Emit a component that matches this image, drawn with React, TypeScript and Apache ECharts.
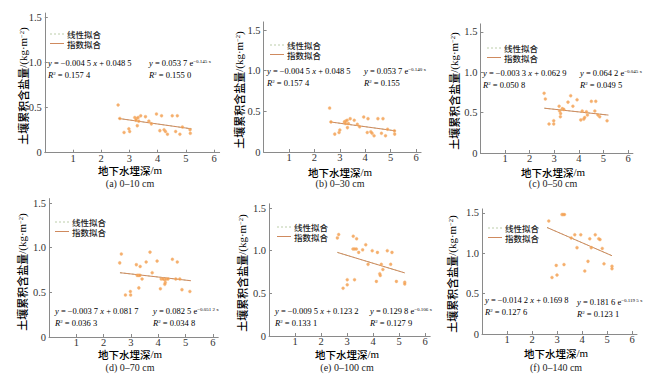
import React, { useEffect, useRef } from "react";
import * as echarts from "echarts";

// ---------- data ----------
const xTicks = [1, 2, 3, 4, 5, 6];
const yTicks = [0, 0.5, 1, 1.5];

const captions = ["(a) 0–10 cm", "(b) 0–30 cm", "(c) 0–50 cm", "(d) 0–70 cm", "(e) 0–100 cm", "(f) 0–140 cm"];
const legendNames = ["线性拟合", "指数拟合"];

const pointsA = [
  [2.6, 0.53], [2.66, 0.38], [2.81, 0.225], [2.98, 0.265], [3.01, 0.235], [3.19, 0.39], [3.25, 0.38],
  [3.31, 0.39], [3.23, 0.36], [3.28, 0.3], [3.33, 0.35], [3.4, 0.41], [3.57, 0.4], [3.69, 0.35],
  [3.78, 0.32], [3.96, 0.43], [4.14, 0.41], [4.08, 0.245], [4.23, 0.255], [4.28, 0.235], [4.35, 0.205],
  [4.52, 0.41], [4.7, 0.41], [4.64, 0.235], [4.79, 0.205], [4.88, 0.285], [5.15, 0.255], [5.16, 0.215],
];
const pointsB = [
  [2.6, 0.54], [2.65, 0.37], [2.8, 0.22], [2.97, 0.24], [3.0, 0.27], [3.18, 0.37], [3.23, 0.38],
  [3.29, 0.39], [3.22, 0.35], [3.3, 0.3], [3.34, 0.35], [3.41, 0.41], [3.57, 0.39], [3.69, 0.34],
  [3.78, 0.31], [3.94, 0.43], [4.11, 0.41], [4.08, 0.24], [4.22, 0.25], [4.27, 0.23], [4.35, 0.2],
  [4.5, 0.41], [4.7, 0.41], [4.64, 0.23], [4.8, 0.2], [4.88, 0.28], [5.15, 0.26], [5.16, 0.22],
];
const pointsC = [
  [2.59, 0.74], [2.64, 0.67], [2.79, 0.36], [2.98, 0.4], [2.98, 0.36], [3.2, 0.58], [3.22, 0.52],
  [3.26, 0.49], [3.25, 0.45], [3.33, 0.55], [3.39, 0.54], [3.56, 0.63], [3.67, 0.71], [3.76, 0.58],
  [3.93, 0.66], [4.14, 0.52], [4.08, 0.41], [4.2, 0.42], [4.24, 0.44], [4.31, 0.51], [4.35, 0.47],
  [4.51, 0.64], [4.69, 0.64], [4.65, 0.52], [4.78, 0.47], [4.85, 0.45], [5.15, 0.4],
];
const pointsD = [
  [2.65, 0.93], [2.59, 0.83], [2.8, 0.47], [2.98, 0.51], [2.99, 0.47], [3.2, 0.81], [3.34, 0.79],
  [3.23, 0.69], [3.28, 0.69], [3.33, 0.69], [3.41, 0.65], [3.29, 0.55], [3.56, 0.84], [3.7, 0.95],
  [3.78, 0.72], [3.96, 0.85], [4.11, 0.65], [4.08, 0.54], [4.24, 0.64], [4.3, 0.65], [4.26, 0.61],
  [4.24, 0.59], [4.36, 0.65], [4.18, 0.65], [4.52, 0.87], [4.7, 0.84], [4.64, 0.65], [4.79, 0.65],
  [4.87, 0.53], [5.16, 0.51],
];
const pointsE = [
  [2.68, 1.19], [2.63, 1.15], [2.85, 0.56], [3.01, 0.66], [3.01, 0.6], [3.24, 1.17], [3.37, 1.14],
  [3.23, 1.02], [3.29, 1.02], [3.36, 1.02], [3.45, 0.98], [3.29, 0.66], [3.6, 1.01], [3.72, 1.07],
  [3.81, 0.84], [3.97, 1.0], [4.17, 0.98], [4.13, 0.64], [4.26, 0.73], [4.28, 0.71], [4.32, 0.84],
  [4.38, 0.78], [4.55, 1.0], [4.73, 0.98], [4.68, 0.84], [4.9, 0.64], [5.22, 0.63], [5.22, 0.61],
];
const pointsF = [
  [2.67, 1.4], [3.2, 1.48], [3.25, 1.48], [3.3, 1.48], [2.97, 0.85], [3.28, 0.86], [2.8, 0.7],
  [3.0, 0.73], [3.57, 1.19], [3.71, 1.23], [3.95, 1.23], [3.8, 1.07], [4.31, 1.18], [4.37, 1.07],
  [4.24, 0.9], [4.11, 0.78], [4.53, 1.23], [4.67, 1.18], [4.72, 1.17], [4.81, 1.06], [4.88, 0.87],
  [5.2, 0.84], [5.2, 0.81],
];
const allPoints = [pointsA, pointsB, pointsC, pointsD, pointsE, pointsF];

// fitted lines (endpoints)
const linFits = [
  [[2.62, 0.38], [5.2, 0.265]],
  [[2.62, 0.37], [5.2, 0.26]],
  [[2.6, 0.555], [5.2, 0.47]],
  [[2.6, 0.72], [5.2, 0.63]],
  [[2.63, 0.98], [5.22, 0.74]],
  [[2.6, 1.32], [5.2, 0.97]],
];
const expFits = linFits;

const linSlope = ["−0.004 5", "−0.004 5", "−0.003 3", "−0.003 7", "−0.009 5", "−0.014 2"];
const linIntercept = ["0.048 5", "0.048 5", "0.062 9", "0.081 7", "0.123 2", "0.169 8"];
const linR2 = ["0.157 4", "0.157 4", "0.050 8", "0.036 3", "0.133 1", "0.127 6"];
const expCoef = ["0.053 7", "0.053 7", "0.064 2", "0.082 5", "0.129 8", "0.181 6"];
const expRate = ["−0.145 x", "−0.140 x", "−0.045 x", "−0.051 2 x", "−0.106 x", "−0.119 5 x"];
const expR2 = ["0.155 0", "0.155", "0.049 5", "0.034 8", "0.127 9", "0.123 1"];
const yMax = [1.55, 1.6, 1.6, 1.55, 1.55, 1.55];

// ---------- layout ----------
const layout = [
  { left: 44.8, y0: 152.7, ux: 28.2, uy: 90.1, eqL: [48, 63], eqR: [149, 63], leg: [50, 34], yName: [23, 86], xName: [130, 170], cap: 183 },
  { left: 263.6, y0: 152, ux: 25.4, uy: 81.3, eqL: [267, 71], eqR: [364, 71], leg: [270, 45], yName: [239, 90], xName: [340, 172], cap: 183 },
  { left: 480.4, y0: 153, ux: 24.6, uy: 80.7, eqL: [483, 73], eqR: [580, 73], leg: [487, 48], yName: [454, 91], xName: [553, 172], cap: 183 },
  { left: 49, y0: 337, ux: 27.3, uy: 89.3, eqL: [55, 311], eqR: [153, 311], leg: [55, 222], yName: [22, 272], xName: [130, 354], cap: 367 },
  { left: 269, y0: 336, ux: 26, uy: 85.3, eqL: [275, 311], eqR: [370, 311], leg: [277, 227], yName: [242, 273], xName: [347, 354], cap: 367 },
  { left: 482, y0: 334, ux: 25, uy: 80.7, eqL: [485, 300], eqR: [577, 302], leg: [488, 228], yName: [452, 274], xName: [556, 353], cap: 367 },
];

const SERIF = '"Liberation Serif", "Times New Roman", serif';
const CJK = '"Noto Sans CJK SC", sans-serif';
const AXIS_COLOR = "#8a8a8a";
const PT_COLOR = "#f29a48";
const EXP_COLOR = "#cf8a5e";
const LIN_COLOR = "#bccdaa";
const XMAX = 6.2;
const LEG_GAP = 9.5;

const eqRich = {
  i: { fontFamily: SERIF, fontStyle: "italic", fontSize: 8.5, color: "#222" },
  n: { fontFamily: SERIF, fontSize: 8.5, color: "#222" },
  s: { fontFamily: SERIF, fontSize: 5, color: "#222", verticalAlign: "top", padding: [0, 0, 4, 0] },
};

function buildOption() {
  const grid: any[] = [];
  const xAxis: any[] = [];
  const yAxis: any[] = [];
  const series: any[] = [];
  const graphic: any[] = [];

  layout.forEach((g, i) => {
    const h = yMax[i] * g.uy;
    grid.push({ left: g.left, top: g.y0 - h, width: XMAX * g.ux, height: h });
    xAxis.push({
      type: "value", gridIndex: i, min: 0, max: XMAX,
      axisLine: { show: true, lineStyle: { color: AXIS_COLOR, width: 1 } },
      axisTick: { show: true, inside: true, length: 3, customValues: xTicks, lineStyle: { color: AXIS_COLOR } },
      axisLabel: { customValues: xTicks, margin: 0, fontFamily: SERIF, fontSize: 10.5, color: "#333" },
      splitLine: { show: false },
    });
    yAxis.push({
      type: "value", gridIndex: i, min: 0, max: yMax[i],
      axisLine: { show: true, lineStyle: { color: AXIS_COLOR, width: 1 } },
      axisTick: { show: true, inside: true, length: 3, customValues: yTicks, lineStyle: { color: AXIS_COLOR } },
      axisLabel: {
        customValues: yTicks, margin: 3, fontFamily: SERIF, fontSize: 10.5, color: "#333",
        formatter: (v: number) => (v === 0 ? "0" : v.toFixed(1)),
      },
      splitLine: { show: false },
    });
    series.push({
      type: "line", xAxisIndex: i, yAxisIndex: i, data: linFits[i], symbol: "none",
      lineStyle: { color: LIN_COLOR, width: 1, type: [2, 2] }, silent: true, z: 2,
    });
    series.push({
      type: "line", xAxisIndex: i, yAxisIndex: i, data: expFits[i], symbol: "none",
      lineStyle: { color: EXP_COLOR, width: 1 }, silent: true, z: 3,
    });
    series.push({
      type: "scatter", xAxisIndex: i, yAxisIndex: i, data: allPoints[i], symbol: "circle", symbolSize: 3,
      itemStyle: { color: PT_COLOR, borderColor: "rgba(248,190,130,0.5)", borderWidth: 1 }, z: 4,
    });

    // legend
    const [lx, ly] = g.leg;
    graphic.push({ type: "line", shape: { x1: lx, y1: ly, x2: lx + 14, y2: ly }, style: { stroke: LIN_COLOR, lineWidth: 1, lineDash: [2, 2] } });
    graphic.push({ type: "line", shape: { x1: lx, y1: ly + LEG_GAP, x2: lx + 14, y2: ly + LEG_GAP }, style: { stroke: EXP_COLOR, lineWidth: 1 } });
    graphic.push({
      type: "text", x: lx + 17, y: ly - LEG_GAP / 2,
      style: {
        text: legendNames.join("\n"), fontFamily: CJK, fontSize: 8.5, fontWeight: 500,
        lineHeight: LEG_GAP, fill: "#222", textVerticalAlign: "top",
      },
    });

    // equations
    const [ex, ey] = g.eqL;
    graphic.push({ type: "text", x: ex, y: ey, style: { text: `{i|y}{n| = ${linSlope[i]} }{i|x}{n| + ${linIntercept[i]}}`, rich: eqRich, textVerticalAlign: "middle" } });
    graphic.push({ type: "text", x: ex, y: ey + 12, style: { text: `{i|R}{s|2}{n| = ${linR2[i]}}`, rich: eqRich, textVerticalAlign: "middle" } });
    const [rx, ry] = g.eqR;
    graphic.push({ type: "text", x: rx, y: ry, style: { text: `{i|y}{n| = ${expCoef[i]} e}{s|${expRate[i]}}`, rich: eqRich, textVerticalAlign: "middle" } });
    graphic.push({ type: "text", x: rx, y: ry + 12, style: { text: `{i|R}{s|2}{n| = ${expR2[i]}}`, rich: eqRich, textVerticalAlign: "middle" } });

    // axis names and caption
    graphic.push({
      type: "text", x: g.yName[0], y: g.yName[1], rotation: Math.PI / 2,
      style: {
        text: "{c|土壤累积含盐量}{l|/(kg·m}{s|−2}{l|)}",
        rich: {
          c: { fontFamily: CJK, fontSize: 11, fontWeight: 500, color: "#222" },
          l: { fontFamily: SERIF, fontSize: 11, color: "#222" },
          s: { fontFamily: SERIF, fontSize: 6.5, color: "#222", verticalAlign: "top" },
        },
        textAlign: "center", textVerticalAlign: "middle",
      },
    });
    graphic.push({
      type: "text", x: g.xName[0], y: g.xName[1],
      style: {
        text: "{c|地下水埋深}{l|/m}",
        rich: {
          c: { fontFamily: CJK, fontSize: 10.5, fontWeight: 500, color: "#222" },
          l: { fontFamily: SERIF, fontSize: 11, color: "#222" },
        },
        textAlign: "center", textVerticalAlign: "middle",
      },
    });
    graphic.push({
      type: "text", x: g.xName[0], y: g.cap,
      style: { text: captions[i], font: `10px ${SERIF}`, fill: "#222", textAlign: "center", textVerticalAlign: "middle" },
    });
  });

  return { animation: false, backgroundColor: "#ffffff", grid, xAxis, yAxis, series, graphic };
}

export default function App() {
  const ref = useRef<HTMLDivElement>(null);
  useEffect(() => {
    if (!ref.current) return;
    const chart = echarts.init(ref.current, undefined, { renderer: "svg" });
    chart.setOption(buildOption() as any);
    return () => chart.dispose();
  }, []);
  return (
    <div
      ref={ref}
      style={{ position: "fixed", left: 0, top: 0, width: 650, height: 377, background: "#fff" }}
    />
  );
}
